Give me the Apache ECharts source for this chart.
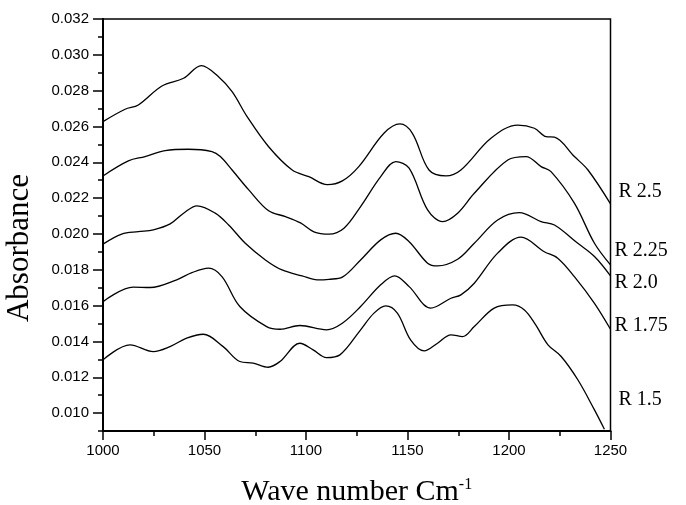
<!DOCTYPE html>
<html><head><meta charset="utf-8">
<script src="https://cdn.jsdelivr.net/npm/echarts@6/dist/echarts.min.js"></script>
<style>html,body{margin:0;padding:0;background:#fff}#c{width:686px;height:505px}</style>
</head><body><div id="c"></div>
<script>
// Tick labels
const xTicks = [1000, 1050, 1100, 1150, 1200, 1250];
const yTicks = [0.010, 0.012, 0.014, 0.016, 0.018, 0.020, 0.022, 0.024, 0.026, 0.028, 0.030, 0.032];
const yMinorTicks = [0.009,0.010,0.011,0.012,0.013,0.014,0.015,0.016,0.017,0.018,0.019,0.020,0.021,0.022,0.023,0.024,0.025,0.026,0.027,0.028,0.029,0.030,0.031,0.032];
const seriesNames = ['R 2.5', 'R 2.25', 'R 2.0', 'R 1.75', 'R 1.5'];

// Series values (wave number, absorbance)
const r25X = [1000, 1010.9, 1017.4, 1029, 1039.7, 1048.4, 1056.9, 1063.6, 1071, 1081.6, 1093.2, 1101.4, 1110.5, 1117.9, 1126, 1138.4, 1146.3, 1152.4, 1160.6, 1168.9, 1176.3, 1191.1, 1204.3, 1212.5, 1218.3, 1222.4, 1232.2, 1238.9, 1250];
const r25Y = [0.02627, 0.02696, 0.0272, 0.02826, 0.02869, 0.0294, 0.02878, 0.02794, 0.02655, 0.02487, 0.02357, 0.0232, 0.02275, 0.02296, 0.02376, 0.02562, 0.02614, 0.02562, 0.02357, 0.02324, 0.02357, 0.02534, 0.02608, 0.0259, 0.02543, 0.0254, 0.02432, 0.02357, 0.02168];

const r225X = [1000, 1012.5, 1020.7, 1030.6, 1042.1, 1053.7, 1057.8, 1063.6, 1071.8, 1081.6, 1089.9, 1097.3, 1103.9, 1111.3, 1118.7, 1126.9, 1136.8, 1144.2, 1150.8, 1159.9, 1167.3, 1174.7, 1182.9, 1199.4, 1208.4, 1215.8, 1220.7, 1232.2, 1242.1, 1250];
const r225Y = [0.02324, 0.02408, 0.02432, 0.02465, 0.02473, 0.0246, 0.02432, 0.02357, 0.02246, 0.02129, 0.02097, 0.02062, 0.02012, 0.01999, 0.02032, 0.02153, 0.0232, 0.02404, 0.02367, 0.02134, 0.02069, 0.02116, 0.02227, 0.02413, 0.02432, 0.02376, 0.02348, 0.02172, 0.01948, 0.01827];

const r20X = [1000, 1009.2, 1017.4, 1024.8, 1033.1, 1039.7, 1046.3, 1055.3, 1061.9, 1070.1, 1080, 1088.2, 1098.1, 1105.5, 1111.3, 1117.9, 1126.9, 1136.8, 1144.2, 1150.8, 1159.9, 1164.8, 1174.7, 1182.9, 1194.4, 1205.1, 1215.8, 1222.4, 1233.9, 1242.1, 1250];
const r20Y = [0.01943, 0.01999, 0.02013, 0.02023, 0.02056, 0.02116, 0.02157, 0.02116, 0.0205, 0.01948, 0.01855, 0.01799, 0.01766, 0.01744, 0.01747, 0.01759, 0.01855, 0.01967, 0.02004, 0.01957, 0.01837, 0.01822, 0.01859, 0.01948, 0.02078, 0.02119, 0.02069, 0.0205, 0.01948, 0.01874, 0.01766];

const r175X = [1000, 1014.9, 1023.2, 1036.3, 1043.8, 1052, 1058.6, 1067.4, 1080.6, 1087.2, 1097, 1110.1, 1117.9, 1126.9, 1136.8, 1143.7, 1150.8, 1161.5, 1171.4, 1176.3, 1182.9, 1194.4, 1205.9, 1217.4, 1224, 1232.2, 1242.1, 1250];
const r175Y = [0.01622, 0.01703, 0.01701, 0.01744, 0.01784, 0.01809, 0.01762, 0.01595, 0.01483, 0.01468, 0.01489, 0.01465, 0.01502, 0.01595, 0.01716, 0.01766, 0.01706, 0.01586, 0.01641, 0.0166, 0.01725, 0.01893, 0.01982, 0.01901, 0.01865, 0.01762, 0.01613, 0.01468];

const r15X = [1000, 1013.3, 1024.8, 1033, 1041.2, 1049.4, 1059.2, 1067.4, 1074, 1081.4, 1087.2, 1097, 1103.5, 1110.1, 1116.7, 1126.9, 1133.5, 1139.3, 1145, 1151.6, 1158.2, 1164.8, 1171.4, 1177.1, 1182.9, 1192.7, 1201.8, 1207.6, 1213, 1219.2, 1225.7, 1233.9, 1242.1, 1247];
const r15Y = [0.01297, 0.01381, 0.01343, 0.01371, 0.01418, 0.0144, 0.01371, 0.01288, 0.01279, 0.01256, 0.01288, 0.0139, 0.01353, 0.0131, 0.01325, 0.01465, 0.01558, 0.01598, 0.01558, 0.01407, 0.01347, 0.0139, 0.01437, 0.01427, 0.01483, 0.01586, 0.01604, 0.01576, 0.01495, 0.01381, 0.01316, 0.01186, 0.01018, 0.0091];

const xs = [r25X, r225X, r20X, r175X, r15X];
const ys = [r25Y, r225Y, r20Y, r175Y, r15Y];
const labelOffsets = [[3, -12], [-1, -14], [-1, 7], [-1, -4], [9, -29]];

const chart = echarts.init(document.getElementById('c'), null, {renderer: 'canvas'});
const sans = 'Liberation Sans, Arial, sans-serif';
const serif = 'Liberation Serif, Times New Roman, serif';

const series = seriesNames.map((n, i) => ({
  name: n,
  type: 'line',
  data: xs[i].map((x, j) => [x, ys[i][j]]),
  smooth: 0.35,
  showSymbol: false,
  symbol: 'none',
  lineStyle: {color: '#000', width: 1.3},
  itemStyle: {color: '#000'},
  clip: true,
  endLabel: {
    show: true,
    formatter: n,
    color: '#000',
    fontFamily: serif,
    fontSize: 20,
    distance: 5,
    offset: labelOffsets[i]
  }
}));

chart.setOption({
  animation: false,
  backgroundColor: '#fff',
  grid: {left: 103, right: 75.5, top: 19, bottom: 74, show: true, borderColor: '#000', borderWidth: 1.5,
    containLabel: false, outerBoundsMode: 'none'},
  xAxis: {
    type: 'value', min: 1000, max: 1250, interval: 50,
    name: '{a|Wave number Cm}{b|-1}',
    nameLocation: 'middle', nameGap: 46,
    nameTextStyle: {rich: {
      a: {fontFamily: serif, fontSize: 30, color: '#000'},
      b: {fontFamily: serif, fontSize: 16, color: '#000', verticalAlign: 'top'}
    }},
    axisLine: {show: true, lineStyle: {color: '#000', width: 2}},
    axisTick: {show: true, inside: false, length: 9, lineStyle: {color: '#000', width: 1.5}},
    minorTick: {show: true, splitNumber: 2, length: 5, lineStyle: {color: '#000', width: 1.5}},
    axisLabel: {color: '#000', fontFamily: sans, fontSize: 15, margin: 12,
      customValues: xTicks, formatter: v => String(v)},
    splitLine: {show: false}
  },
  yAxis: [{
    type: 'value', min: 0.009, max: 0.032,
    name: 'Absorbance', nameLocation: 'middle', nameGap: 68,
    nameTextStyle: {fontFamily: serif, fontSize: 31, color: '#000', padding: [0, 46, 0, 0]},
    axisLine: {show: true, lineStyle: {color: '#000', width: 2}},
    axisTick: {show: true, length: 10, customValues: yTicks, lineStyle: {color: '#000', width: 1.5}},
    axisLabel: {color: '#000', fontFamily: sans, fontSize: 15, margin: 14,
      customValues: yTicks, formatter: v => v.toFixed(3)},
    splitLine: {show: false}
  }, {
    type: 'value', min: 0.009, max: 0.032, position: 'left',
    axisLine: {show: true, lineStyle: {color: '#000', width: 2}},
    axisTick: {show: true, length: 5, customValues: yMinorTicks, lineStyle: {color: '#000', width: 1.5}},
    axisLabel: {show: false},
    splitLine: {show: false}
  }],
  series: series
});
</script>
</body></html>
